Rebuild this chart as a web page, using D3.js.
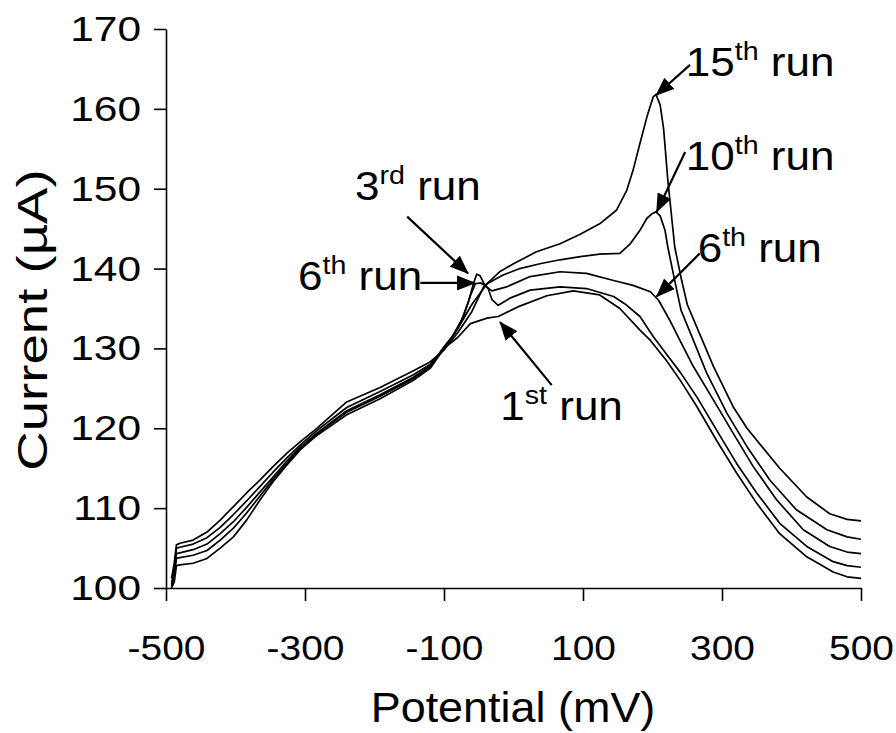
<!DOCTYPE html>
<html><head><meta charset="utf-8">
<script src="https://cdn.jsdelivr.net/npm/d3@7"></script>
<style>
body{margin:0;background:#fff}
svg{display:block}
text{font-family:"Liberation Sans",Arial,Helvetica,sans-serif;fill:#000}
</style></head><body>
<svg id="c" width="896" height="733"></svg>
<script>
// ---- data (x: potential mV, y: current µA) ----
const xTicks = [-500, -300, -100, 100, 300, 500];
const yTicks = [100, 110, 120, 130, 140, 150, 160, 170];

const run15 = [[-492,101.2],[-488,103.2],[-485,105.4],[-480,105.6],[-461,106.0],[-441,107.0],[-422,108.5],[-403,110.2],[-384,111.9],[-365,113.5],[-346,115.2],[-326,116.9],[-307,118.3],[-283,120.0],[-240,123.3],[-192,125.1],[-144,127.2],[-120,128.3],[-100,129.8],[-80,132.0],[-60,134.6],[-43,137.7],[-20,139.6],[0,140.6],[33,142.1],[67,143.1],[96,144.3],[124,145.6],[148,147.3],[163,149.8],[172,152.3],[182,155.7],[192,159.0],[201,161.5],[205,161.8],[211,160.5],[216,157.5],[222,151.1],[232,142.7],[242,138.5],[250,135.5],[268,131.8],[288,127.7],[316,122.7],[336,120.0],[350,118.5],[383,115.0],[422,111.4],[455,109.3],[480,108.6],[500,108.4]];

const run10 = [[-492,100.5],[-488,102.5],[-485,105.0],[-480,105.1],[-461,105.5],[-441,106.3],[-422,107.6],[-403,109.2],[-384,110.9],[-365,112.7],[-346,114.5],[-326,116.3],[-307,117.9],[-283,119.7],[-240,122.6],[-192,124.6],[-144,126.7],[-120,128.0],[-100,130.0],[-80,132.5],[-60,135.5],[-38,138.1],[-15,139.2],[9,140.0],[38,140.6],[67,141.1],[96,141.5],[124,141.8],[153,141.9],[168,143.1],[182,144.8],[192,146.3],[200,146.9],[205,147.1],[211,146.6],[218,144.8],[222,142.7],[232,138.5],[241,134.8],[258,131.2],[278,126.9],[307,121.9],[336,117.7],[369,113.5],[407,109.8],[451,107.3],[480,106.4],[500,106.1]];

const run6 = [[-492,100.3],[-488,102.0],[-485,104.3],[-480,104.4],[-461,104.8],[-441,105.5],[-422,106.8],[-403,108.3],[-384,110.1],[-365,112.0],[-346,113.9],[-326,115.9],[-307,117.6],[-283,119.4],[-240,122.2],[-192,124.2],[-144,126.4],[-120,127.8],[-100,130.1],[-85,131.8],[-72,134.0],[-62,136.6],[-55,138.1],[-47,138.2],[-40,137.8],[-31,137.2],[-10,137.7],[24,139.0],[67,139.6],[105,139.4],[144,138.5],[172,137.9],[197,137.1],[209,136.0],[225,133.5],[240,130.9],[259,127.7],[288,123.5],[316,119.4],[345,115.2],[379,111.0],[417,107.3],[455,105.2],[480,104.5],[500,104.3]];

const run3 = [[-492,100.2],[-488,101.5],[-485,103.7],[-480,103.8],[-461,104.1],[-441,104.7],[-422,106.0],[-403,107.5],[-384,109.4],[-365,111.5],[-346,113.6],[-326,115.6],[-307,117.5],[-283,119.3],[-240,122.0],[-192,124.0],[-144,126.2],[-120,127.7],[-100,130.2],[-88,131.5],[-75,133.5],[-65,135.8],[-58,138.0],[-53,139.3],[-48,139.1],[-43,138.2],[-36,137.4],[-31,136.1],[-22,135.4],[-5,136.3],[24,137.3],[67,137.7],[105,137.5],[144,136.5],[160,135.6],[182,134.0],[201,131.5],[220,129.3],[240,127.0],[264,123.9],[292,119.8],[321,115.6],[350,111.9],[383,108.1],[422,105.2],[460,103.3],[480,102.8],[500,102.6]];

const run1 = [[-492,100.0],[-488,100.8],[-485,102.8],[-480,102.9],[-461,103.1],[-441,103.7],[-422,105.0],[-403,106.4],[-384,108.5],[-365,111.0],[-346,113.3],[-326,115.4],[-307,117.3],[-283,119.1],[-240,121.7],[-192,123.7],[-144,126.0],[-120,127.5],[-100,130.0],[-80,131.4],[-62,133.1],[-38,133.8],[-22,134.0],[9,135.3],[48,136.6],[86,137.2],[124,136.7],[153,135.0],[182,132.3],[197,131.0],[220,128.5],[240,126.0],[264,122.7],[292,118.5],[321,114.4],[350,110.6],[383,106.8],[422,103.9],[460,102.0],[480,101.4],[500,101.2]];

const seriesList = [run1, run3, run6, run10, run15];

// annotation labels
const labelNums = ["15", "10", "6", "3", "6", "1"];
const labelSups = ["th", "th", "th", "rd", "th", "st"];
const labelPos = [[248, 164.1], [248, 152.3], [265, 140.8], [-228, 148.6], [-310, 137.3], [-19, 121.0]];
// arrows: [from x, from y, to x, to y] in data units
const arrows = [[254,165.5,205,161.7],[247,154.6,206,147.1],[268,141.9,206,136.5],[-153,146.5,-65.5,139.4],[-134,138.2,-55.4,138.2],[55,125.4,-19.4,133.3]];

// ---- drawing ----
const svg = d3.select("#c");
const x = d3.scaleLinear().domain([-500, 500]).range([166, 861]);
const y = d3.scaleLinear().domain([100, 170]).range([588, 29]);
const FONT = '"Liberation Sans",Arial,Helvetica,sans-serif';

const gx = svg.append("g").attr("transform", "translate(0,588)")
  .call(d3.axisBottom(x).tickValues(xTicks).tickSize(13).tickSizeOuter(0).tickPadding(33).tickFormat(d => String(d)));
const gy = svg.append("g").attr("transform", "translate(166,0)")
  .call(d3.axisLeft(y).tickValues(yTicks).tickSize(12).tickSizeOuter(0).tickPadding(13).tickFormat(d => String(d)));
[gx, gy].forEach(g => {
  g.attr("font-family", FONT).attr("font-size", 36);
  g.selectAll("path.domain").attr("stroke", "#000").attr("stroke-width", 1.6);
  g.selectAll(".tick line").attr("stroke", "#000").attr("stroke-width", 1.6);
  g.selectAll(".tick text").attr("fill", "#000");
});
// horizontal stretch of tick labels (anchored at their alignment point)
gy.selectAll(".tick text").each(function () {
  const t = d3.select(this), tx = +t.attr("x");
  t.attr("x", 0).attr("transform", `translate(${tx},0) scale(1.18,1)`);
});
gx.selectAll(".tick text").each(function () {
  const t = d3.select(this), ty = +t.attr("y");
  t.attr("y", 0).attr("transform", `translate(0,${ty}) scale(1.08,1)`);
});

const line = d3.line().x(d => x(d[0])).y(d => y(d[1]));
svg.append("g").selectAll("path").data(seriesList).join("path")
  .attr("d", line).attr("fill", "none").attr("stroke", "#000")
  .attr("stroke-width", 1.7).attr("stroke-linejoin", "round");

// arrows
const defs = svg.append("defs");
defs.append("marker").attr("id", "ah").attr("markerUnits", "userSpaceOnUse")
  .attr("markerWidth", 19).attr("markerHeight", 15).attr("refX", 18).attr("refY", 7.5)
  .attr("orient", "auto")
  .append("path").attr("d", "M0,0 L19,7.5 L0,15 Z").attr("fill", "#000");
svg.append("g").selectAll("line").data(arrows).join("line")
  .attr("x1", d => x(d[0])).attr("y1", d => y(d[1]))
  .attr("x2", d => x(d[2])).attr("y2", d => y(d[3]))
  .attr("stroke", "#000").attr("stroke-width", 2.2).attr("marker-end", "url(#ah)");

// labels
const lab = svg.append("g").selectAll("text").data(labelNums).join("text")
  .attr("transform", (d, i) => `translate(${x(labelPos[i][0])},${y(labelPos[i][1])}) scale(1.1,1)`)
  .attr("font-size", 40);
lab.append("tspan").text(d => d);
lab.append("tspan").attr("font-size", 26).attr("dy", -16).text((d, i) => labelSups[i]);
lab.append("tspan").attr("dy", 16).text(" run");

// axis titles
svg.append("text").attr("transform", "translate(513,722) scale(1.07,1)").attr("text-anchor", "middle")
  .attr("font-size", 42).text("Potential (mV)");
svg.append("text").attr("transform", "translate(47,320) rotate(-90) scale(1.3,1)")
  .attr("text-anchor", "middle").attr("font-size", 42).text("Current (µA)");
</script></body></html>
